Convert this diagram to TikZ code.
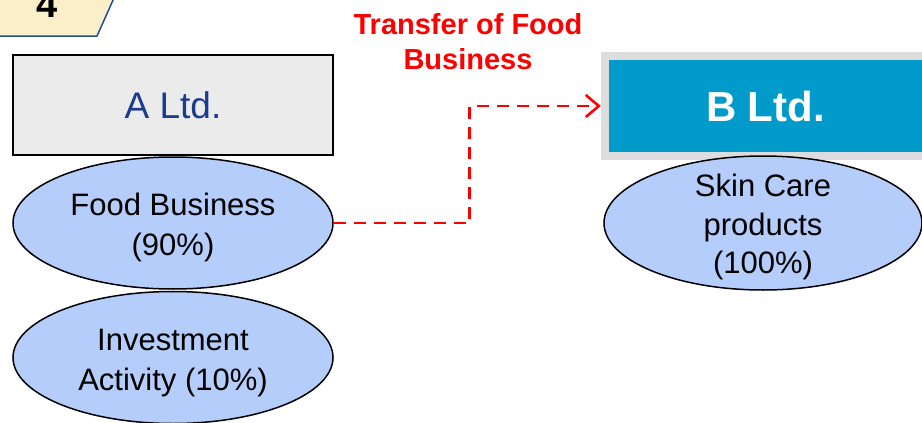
\documentclass[tikz,border=0pt]{standalone}
\usepackage{fontspec}
\setmainfont{Liberation Sans}
\usetikzlibrary{shapes.geometric,arrows.meta}
\definecolor{ellfill}{HTML}{B5CDFA}
\definecolor{aboxfill}{HTML}{EBEBEB}
\definecolor{atext}{HTML}{1B3C8E}
\definecolor{bblue}{HTML}{009ACB}
\definecolor{bframe}{HTML}{DDDDDD}
\definecolor{tabfill}{HTML}{FAEFC8}
\definecolor{tabline}{HTML}{1F4E9A}
\tikzset{
  ell/.style={ellipse, draw=black, line width=1.5pt, fill=ellfill, inner sep=0pt,
    minimum width=320pt, minimum height=132pt},
  elltext/.style={align=center, inner sep=0pt, font=\fontsize{31}{40}\selectfont},
  transfer/.style={draw=red, line width=2.6pt, dash pattern=on 12pt off 8pt,
    -{Straight Barb[length=13pt,width=22pt,line width=2.6pt]}}
}
\begin{document}
\begin{tikzpicture}[x=1pt,y=-1pt]
\useasboundingbox (0,0) rectangle (922,423);
% tab
\fill[tabfill] (-2,-2) -- (114,-2) -- (97,36) -- (-2,36) -- cycle;
\draw[tabline, line width=1.5pt] (-2,36) -- (97,36) -- (114,-2);
\node[anchor=base, font=\fontsize{38}{40}\selectfont\bfseries] (num) at (47,17) {4};
% A Ltd
\node[draw=black, line width=2pt, fill=aboxfill, minimum width=320pt, minimum height=100pt,
  text=atext, font=\fontsize{37}{40}\selectfont] (A) at (173,105) {A Ltd.};
% B Ltd
\node[fill=bframe, minimum width=321pt, minimum height=108pt, inner sep=0pt] (Bframe) at (761.5,106) {};
\node[fill=bblue, minimum width=313pt, minimum height=92pt, inner sep=0pt, text=white,
  font=\fontsize{42}{44}\selectfont\bfseries] (B) at (765.5,106) {B Ltd.};
% ellipses
\node[ell] (food) at (173,223) {};
\node[elltext] (foodtxt) at (173,227) {Food Business\\(90\%)};
\node[ell] (inv) at (173,357.5) {};
\node[elltext] (invtxt) at (173,363.5) {Investment\\Activity (10\%)};
\node[ell, minimum width=318pt, minimum height=134pt] (skin) at (763,223) {};
\node[elltext, font=\fontsize{31}{38.5}\selectfont] (skintxt) at (763,227) {Skin Care\\products\\(100\%)};
% label
\node[text=red, align=center, font=\fontsize{29}{35}\selectfont\bfseries] (lbl) at (468,42) {Transfer of Food\\Business};
% connector
\draw[transfer] (food.east) -- ++(136,0) |- (Bframe.west);
\end{tikzpicture}
\end{document}
